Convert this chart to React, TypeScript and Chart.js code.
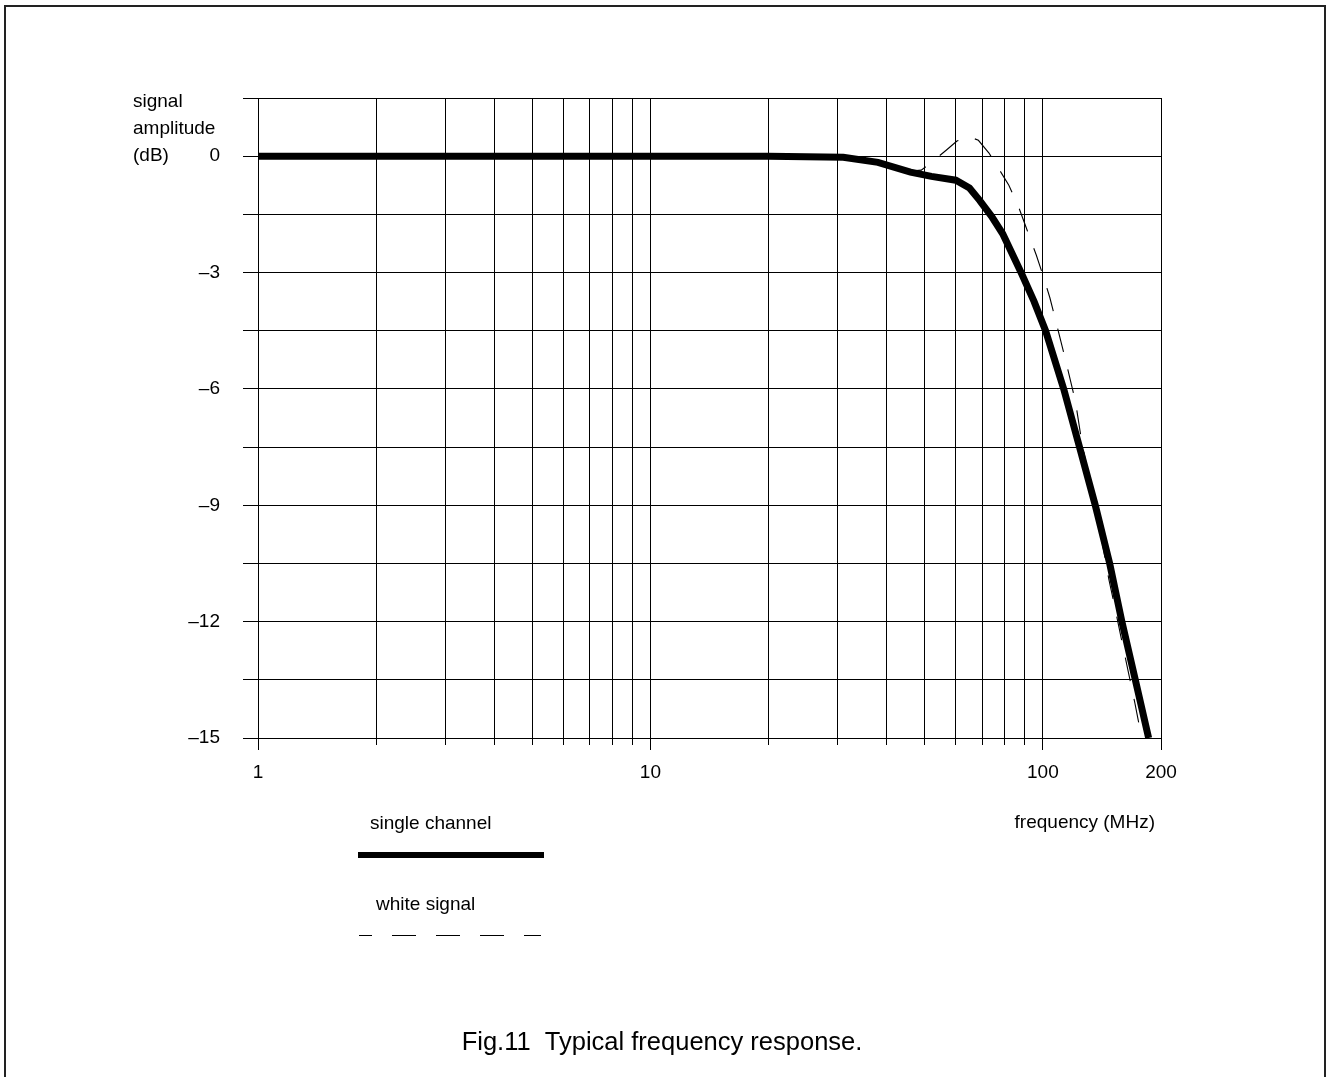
import { useEffect, useRef } from 'react';
import { Chart, registerables } from 'chart.js';

Chart.register(...registerables);

// ---- data ----
const singleFreq = [1, 20, 31, 38, 46, 52, 60, 65, 69, 74, 79, 88, 95, 101.6, 113, 124, 136, 148, 159, 172, 186];
const singleDb = [0, 0, -0.03, -0.16, -0.41, -0.52, -0.62, -0.82, -1.14, -1.55, -2.0, -3.0, -3.75, -4.5, -6.0, -7.5, -9.0, -10.5, -12.0, -13.5, -15.0];

const whiteFreq = [44, 49, 52, 56.8, 60.4, 64.3, 68.5, 72.9, 76.2, 81.9, 86.8, 91.2, 96.3, 100.5, 104.2, 107.8, 114, 121, 125.5, 133, 141, 147.2, 151.6, 161.2, 171.6, 178.6];
const whiteDb = [-0.4, -0.36, -0.16, 0.16, 0.39, 0.52, 0.41, 0.08, -0.23, -0.75, -1.32, -1.91, -2.56, -3.13, -3.65, -4.24, -5.22, -6.31, -7.34, -8.6, -9.85, -10.9, -11.5, -12.8, -14.1, -15.0];

const xGridValues = [1, 2, 3, 4, 5, 6, 7, 8, 9, 10, 20, 30, 40, 50, 60, 70, 80, 90, 100, 200];
const xLabelValues = [1, 10, 100, 200];
const yMin = -15;
const yMax = 1.5;
const yStep = 1.5;
const yLabelStep = 3;

const yTitleLines = ['signal', 'amplitude', '(dB)'];
const xTitle = 'frequency (MHz)';
const legendLabels = ['single channel', 'white signal'];
const caption = 'Fig.11  Typical frequency response.';

const FONT = '"Liberation Sans", Arial, Helvetica, sans-serif';

export default function App() {
  const ref = useRef<HTMLCanvasElement>(null);

  useEffect(() => {
    document.body.style.margin = '0';
    Chart.defaults.font.family = FONT;
    Chart.defaults.color = '#000';

    const decor = {
      id: 'decor',
      afterDraw(chart: any) {
        const ctx = chart.ctx as CanvasRenderingContext2D;
        const xs = chart.scales.x;
        const area = chart.chartArea;
        ctx.save();
        // outer frame
        ctx.strokeStyle = '#222';
        ctx.lineWidth = 2;
        ctx.strokeRect(5, 6, 1320, 1100);

        // longer ticks at labelled decades
        ctx.strokeStyle = '#000';
        ctx.lineWidth = 1;
        ctx.beginPath();
        for (const v of xLabelValues) {
          const px = Math.round(xs.getPixelForValue(v) - 0.5) + 0.5;
          ctx.moveTo(px, area.bottom);
          ctx.lineTo(px, area.bottom + 12);
        }
        ctx.stroke();

        ctx.fillStyle = '#000';
        ctx.font = `19px ${FONT}`;
        ctx.textBaseline = 'alphabetic';
        ctx.textAlign = 'left';
        yTitleLines.forEach((t, i) => ctx.fillText(t, 133, 107 + i * 27));

        ctx.textAlign = 'right';
        ctx.fillText(xTitle, 1155, 828);

        // legend
        ctx.textAlign = 'left';
        ctx.fillText(legendLabels[0], 370, 829);
        ctx.fillText(legendLabels[1], 376, 910);
        ctx.lineWidth = 6;
        ctx.beginPath();
        ctx.moveTo(358, 855);
        ctx.lineTo(544, 855);
        ctx.stroke();
        ctx.lineWidth = 1;
        ctx.setLineDash([24, 20]);
        ctx.lineDashOffset = 11;
        ctx.beginPath();
        ctx.moveTo(359, 935.5);
        ctx.lineTo(541, 935.5);
        ctx.stroke();
        ctx.setLineDash([]);

        // caption
        ctx.textAlign = 'center';
        ctx.font = `25.5px ${FONT}`;
        ctx.fillText(caption, 662, 1050);
        ctx.restore();
      },
    };

    const zeroPad = (scale: any) => {
      scale.paddingTop = 0;
      scale.paddingBottom = 0;
      scale.paddingLeft = 0;
      scale.paddingRight = 0;
    };

    const chart = new Chart(ref.current as HTMLCanvasElement, {
      type: 'line',
      data: {
        datasets: [
          {
            label: legendLabels[0],
            data: singleFreq.map((f, i) => ({ x: f, y: singleDb[i] })),
            borderColor: '#000',
            borderWidth: 7,
            pointRadius: 0,
            tension: 0,
            fill: false,
          },
          {
            label: legendLabels[1],
            data: whiteFreq.map((f, i) => ({ x: f, y: whiteDb[i] })),
            borderColor: '#000',
            borderWidth: 1.1,
            borderDash: [24, 18],
            pointRadius: 0,
            tension: 0,
            fill: false,
          },
        ],
      },
      options: {
        animation: false,
        responsive: false,
        devicePixelRatio: 1,
        layout: { padding: { left: 0, top: 98, right: 165, bottom: 0 } },
        plugins: { legend: { display: false }, tooltip: { enabled: false }, title: { display: false } },
        scales: {
          x: {
            type: 'logarithmic',
            min: 1,
            max: 200,
            afterBuildTicks: (scale: any) => {
              scale.ticks = xGridValues.map((v) => ({ value: v }));
            },
            afterFit: (scale: any) => {
              scale.height = 339;
              zeroPad(scale);
            },
            grid: { color: '#000', lineWidth: 1, tickLength: 7, drawTicks: true },
            border: { color: '#000', width: 1 },
            ticks: {
              autoSkip: false,
              maxRotation: 0,
              minRotation: 0,
              padding: 16,
              color: '#000',
              font: { size: 19, family: FONT },
              callback: (v: any) => (xLabelValues.includes(Number(v)) ? String(v) : ''),
            },
          },
          y: {
            type: 'linear',
            min: yMin,
            max: yMax,
            afterFit: (scale: any) => {
              scale.width = 258;
              zeroPad(scale);
            },
            grid: { color: '#000', lineWidth: 1, tickLength: 15, drawTicks: true },
            border: { color: '#000', width: 1 },
            ticks: {
              stepSize: yStep,
              autoSkip: false,
              padding: 23,
              color: '#000',
              font: { size: 19, family: FONT },
              callback: (v: any) => {
                const n = Number(v);
                if (Math.abs(n % yLabelStep) > 1e-9) return '';
                if (n < 0) return '\u2013' + Math.abs(n);
                return '0';
              },
            },
          },
        },
      },
      plugins: [decor],
    } as any);

    return () => chart.destroy();
  }, []);

  return (
    <div style={{ width: 1326, height: 1077, background: '#fff' }}>
      <canvas ref={ref} width={1326} height={1077} style={{ display: 'block' }} />
    </div>
  );
}
